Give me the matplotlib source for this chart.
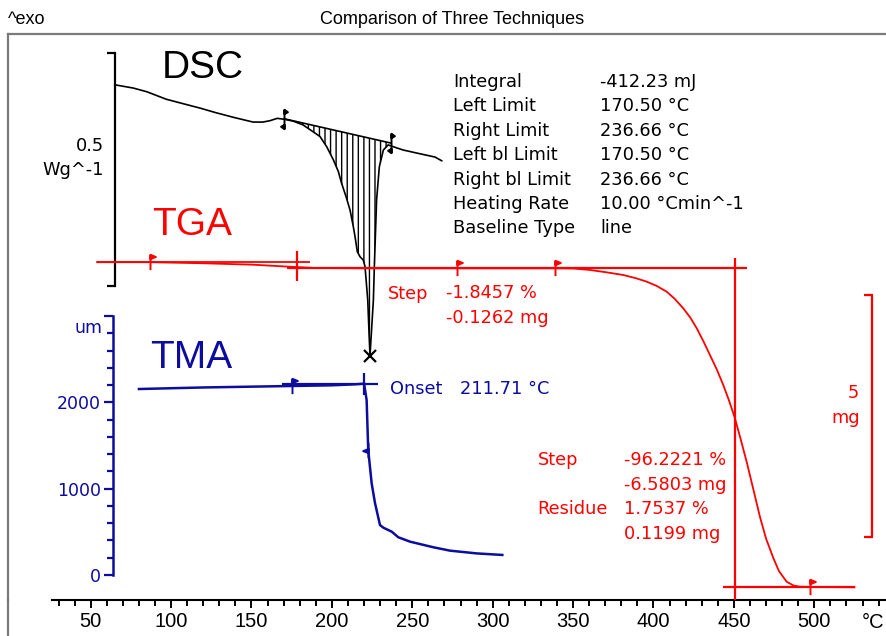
import matplotlib.pyplot as plt
import numpy as np
from matplotlib.path import Path
from matplotlib.lines import Line2D

W, H = 886, 636
RED = '#ff0000'
NAVY = '#0c0ca0'
GRAY = '#7a7a7a'
FS = 12.8
SANS = 'Liberation Sans'

# temperature axis
temp_ticks = [50, 100, 150, 200, 250, 300, 350, 400, 450, 500]

# DSC heat flow (W/g, arbitrary offset) vs temperature (°C)
dsc_temp = [65, 76.5, 85, 97, 108, 118, 128, 139, 151, 157, 161.5, 166, 170.5, 176, 182,
            188.4, 192.6, 196.8, 200.9, 204, 206, 208.8, 211.3, 213.3, 214.4, 215.8, 217.5,
            219.5, 220.6, 222.3, 223.1, 223.7, 225.8, 226.4, 227.8, 229.5, 232, 235, 240,
            244.4, 254.8, 264.1, 268.3]
dsc_flow = [0.431, 0.424, 0.416, 0.400, 0.390, 0.381, 0.371, 0.361, 0.351, 0.351, 0.354, 0.359,
            0.357, 0.353, 0.345, 0.330, 0.320, 0.298, 0.270, 0.245, 0.220, 0.191, 0.162, 0.127,
            0.105, 0.073, 0.062, 0.055, 0.041, -0.031, -0.102, -0.150, -0.031, 0.041, 0.184,
            0.255, 0.291, 0.302, 0.296, 0.291, 0.283, 0.276, 0.268]
dsc_limits = [170.50, 236.66]
dsc_baseline = [0.358, 0.306]
dsc_peak = [223.7, -0.150]
dsc_info_names = ["Integral", "Left Limit", "Right Limit", "Left bl Limit",
                  "Right bl Limit", "Heating Rate", "Baseline Type"]
dsc_info_values = ["-412.23 mJ", "170.50 °C", "236.66 °C", "170.50 °C",
                   "236.66 °C", "10.00 °Cmin^-1", "line"]

# TGA mass (mg) vs temperature (°C)
tga_temp = [54, 87, 118, 150, 172, 190, 220, 278, 338, 350, 360.5, 371, 381.2, 389, 395.8,
            402, 408.2, 413, 418.5, 423, 426.9, 431, 435.1, 439.3, 443.4, 447, 450.7, 454,
            458, 462, 466.2, 470, 474.5, 478, 482.8, 487, 491, 500, 525]
tga_mass = [6.83, 6.83, 6.81, 6.78, 6.74, 6.71, 6.704, 6.704, 6.704, 6.70, 6.67, 6.62, 6.566,
            6.50, 6.428, 6.34, 6.221, 6.08, 5.878, 5.68, 5.465, 5.20, 4.913, 4.62, 4.293, 3.97,
            3.60, 3.20, 2.70, 2.15, 1.57, 1.12, 0.72, 0.45, 0.229, 0.151, 0.126, 0.12, 0.114]
tga_flags = [(87, 6.83), (277.6, 6.704), (338.8, 6.704), (497.3, 0.12)]
tga_step1_levels = [6.83, 6.704]
tga_residue = 0.12
tga_inflection = 451.0

# TMA length (um) vs temperature (°C)
tma_temp = [80, 120, 175, 200, 215, 220, 221.6, 222.6, 224.7, 226.8, 229.9, 232, 237.2,
            241.3, 248.6, 263.1, 273.4, 290, 306]
tma_len = [2155, 2173, 2190, 2198, 2210, 2217, 2028, 1448, 1066, 834, 579, 548, 502, 437,
           386, 321, 282, 250, 232]
tma_onset = [220, 2210]
tma_ticks = [0, 1000, 2000, 3000]
tma_ticklabels = ['0', '1000', '2000', '']

# markers
flag_r = Path([(0, -1), (0, 1), (0, 1), (0.7, 0.72), (0, 0.45), (0, 0)],
              [Path.MOVETO, Path.LINETO, Path.MOVETO, Path.LINETO, Path.LINETO, Path.CLOSEPOLY])
flag_l = Path([(0, -1), (0, 1), (0, 0.2), (-0.7, -0.08), (0, -0.35), (0, 0)],
              [Path.MOVETO, Path.LINETO, Path.MOVETO, Path.LINETO, Path.LINETO, Path.CLOSEPOLY])
limit_mark = Path([(0, -1), (0, 1), (0, 1), (0.35, 0.75), (0, 0.55), (0, 0),
                   (0, -1), (-0.35, -0.75), (0, -0.55), (0, 0)],
                  [Path.MOVETO, Path.LINETO, Path.MOVETO, Path.LINETO, Path.LINETO,
                   Path.CLOSEPOLY, Path.MOVETO, Path.LINETO, Path.LINETO, Path.CLOSEPOLY])

fig = plt.figure(figsize=(W / 100, H / 100), dpi=100)


def ftext(px, py, s, **kw):
    kw.setdefault('va', 'center')
    kw.setdefault('fontsize', FS)
    fig.text(px / W, 1 - py / H, s, **kw)


ax = fig.add_axes([8 / W, 36 / H, 878 / W, 566 / H])
ax.set_xlim(-1.43, 544.6)
ax.set_ylim(0, 1)
ax.set_yticks([])
ax.spines['right'].set_visible(False)
for s in ['top', 'left']:
    ax.spines[s].set_color(GRAY)
    ax.spines[s].set_linewidth(1.6)
ax.spines['bottom'].set_linewidth(1.5)
ax.spines['bottom'].set_bounds(26, 544.6)
ax.set_xticks(temp_ticks)
ax.set_xticks(np.arange(30, 541, 10), minor=True)
ax.tick_params(axis='x', which='major', length=6, width=1.4, pad=2.5,
               labelsize=14.5, labelfontfamily=SANS)
ax.tick_params(axis='x', which='minor', length=4.3, width=1.4)
fig.add_artist(Line2D([8 / W, 8 / W], [0, 36 / H], color=GRAY, lw=1.6))


def overlay(ylim):
    a = ax.twinx()
    a.set_ylim(*ylim)
    for s in a.spines.values():
        s.set_visible(False)
    a.patch.set_visible(False)
    return a


# ---- DSC ----
dsc = overlay((-0.6745, 0.540))
dsc.yaxis.tick_left()
sp = dsc.spines['left']
sp.set_visible(True)
sp.set_position(('axes', (115 - 8) / 878))
sp.set_bounds(0, 0.5)
sp.set_linewidth(1.6)
dsc.set_yticks([0, 0.5])
dsc.set_yticklabels([])
dsc.tick_params(axis='y', direction='out', length=6, width=1.6)

t = np.array(dsc_temp)
f = np.array(dsc_flow)
dsc.plot(t, f, color='black', lw=1.2)
m = (t >= dsc_limits[0]) & (t <= dsc_limits[1])
bl = np.interp(t[m], dsc_limits, dsc_baseline)
dsc.fill_between(t[m], f[m], bl, facecolor='none', edgecolor='black', hatch='|||', lw=0)
dsc.plot(dsc_limits, dsc_baseline, color='black', lw=1.2)
dsc.plot(dsc_limits, dsc_baseline, ls='none', marker=limit_mark, ms=14,
         color='black', mew=1.4)
dsc.plot(*dsc_peak, marker='x', ms=8, color='black', mew=1.6)

# ---- TGA ----
tga = overlay((-0.149, 11.545))
sp = tga.spines['right']
sp.set_visible(True)
sp.set_position(('axes', (871.7 - 8) / 878))
sp.set_bounds(1.147, 6.147)
sp.set_color(RED)
sp.set_linewidth(1.6)
tga.set_yticks([1.147, 6.147])
tga.set_yticklabels([])
tga.tick_params(axis='y', direction='in', length=6, width=1.6, colors=RED)

tga.plot(tga_temp, tga_mass, color=RED, lw=1.3)
tga.hlines(tga_step1_levels[0], 54, 186.5, color=RED, lw=1.3)
tga.hlines(tga_step1_levels[1], 172, 458.4, color=RED, lw=1.6)
tga.vlines(178.5, 6.44, 7.07, color=RED, lw=1.6)
tga.vlines(tga_inflection, -0.149, 6.92, color=RED, lw=1.6)
tga.hlines(tga_residue, 443.4, 525.3, color=RED, lw=1.6)
for x, y in tga_flags:
    tga.plot(x, y, marker=flag_r, ms=11, color=RED, mew=1.4)

# ---- TMA ----
tma = overlay((-290, 6269))
tma.yaxis.tick_left()
sp = tma.spines['left']
sp.set_visible(True)
sp.set_position(('axes', (113 - 8) / 878))
sp.set_bounds(0, 3000)
sp.set_color(NAVY)
sp.set_linewidth(1.8)
tma.set_yticks(tma_ticks)
tma.set_yticklabels(tma_ticklabels)
tma.set_yticks(np.arange(0, 3001, 200), minor=True)
tma.tick_params(axis='y', which='major', direction='out', length=6.5, width=1.6,
                colors=NAVY, labelsize=12.5, pad=2)
tma.tick_params(axis='y', which='minor', direction='out', length=4.3, width=1.6, colors=NAVY)

tma.plot(tma_temp, tma_len, color=NAVY, lw=1.8)
tma.hlines(tma_onset[1], 168.8, 228.8, color=NAVY, lw=1.6)
tma.vlines(tma_onset[0], 2080, 2337, color=NAVY, lw=1.6)
tma.plot(175, 2190, marker=flag_r, ms=11, color=NAVY, mew=1.4)
tma.plot(222.6, 1448, marker=flag_l, ms=11, color=NAVY, mew=1.4)

# ---- texts ----
ftext(8, 20, '^exo', family=SANS, fontsize=13)
ftext(452.5, 20, 'Comparison of Three Techniques', family=SANS, fontsize=13, ha='center')
ftext(162, 68, 'DSC', family=SANS, fontsize=28)
ftext(152, 225, 'TGA', family=SANS, fontsize=28, color=RED)
ftext(150, 358, 'TMA', family=SANS, fontsize=28, color=NAVY)
ftext(104, 146, '0.5', ha='right')
ftext(104, 170, 'Wg^-1', ha='right')
ftext(102, 328, 'um', ha='right', color=NAVY, fontsize=12.5)
ftext(859, 393, '5', ha='right', color=RED)
ftext(860, 418, 'mg', ha='right', color=RED)
ftext(884, 622, '°C', family=SANS, fontsize=14.5, ha='right')

for i, (name, val) in enumerate(zip(dsc_info_names, dsc_info_values)):
    ftext(453, 82 + i * 24.4, name)
    ftext(600, 82 + i * 24.4, val)

ftext(388, 294, 'Step', color=RED)
ftext(446.5, 293, '-1.8457 %', color=RED)
ftext(446.5, 318, '-0.1262 mg', color=RED)
ftext(390, 389, 'Onset', color=NAVY)
ftext(460, 389, '211.71 °C', color=NAVY)
ftext(537.5, 460, 'Step', color=RED)
ftext(624, 460, '-96.2221 %', color=RED)
ftext(624, 485, '-6.5803 mg', color=RED)
ftext(537.5, 509, 'Residue', color=RED)
ftext(624, 509, '1.7537 %', color=RED)
ftext(624, 534, '0.1199 mg', color=RED)

fig.savefig('out.png', dpi=100)
